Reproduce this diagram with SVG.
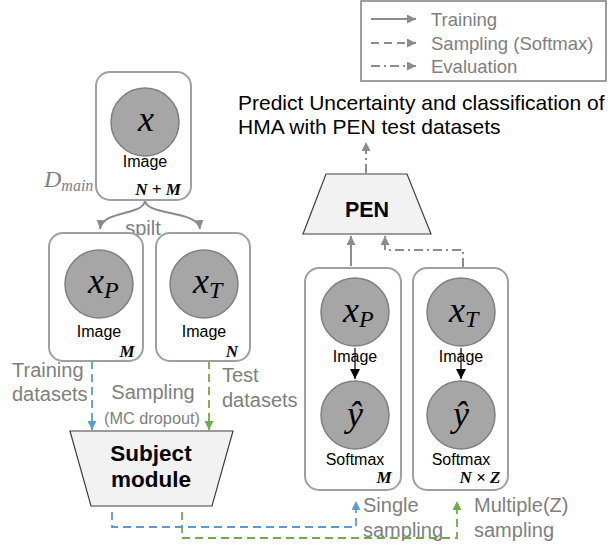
<svg xmlns="http://www.w3.org/2000/svg" width="610" height="548" viewBox="0 0 610 548">
<style>
.box{fill:#fff;stroke:#a0a0a0;stroke-width:2}
.node{fill:#a6a6a6;stroke:#7f7f7f;stroke-width:1.5}
.trap{fill:#f2f2f2;stroke:#404040;stroke-width:1.2}
.lbl{font-family:"Liberation Sans",Arial,sans-serif;font-size:16px;fill:#000}
.gl{font-family:"Liberation Sans",Arial,sans-serif;font-size:20px;fill:#808080}
.leg{font-family:"Liberation Sans",Arial,sans-serif;font-size:18.5px;fill:#808080}
.math{font-family:"Liberation Serif","DejaVu Serif",serif;font-style:italic;fill:#000}
.cnt{font-family:"Liberation Serif","DejaVu Serif",serif;font-style:italic;font-weight:bold;font-size:17px;fill:#000}
.bold{font-family:"Liberation Sans",Arial,sans-serif;font-weight:bold;fill:#000}
.g{fill:none;stroke:#8c8c8c;stroke-width:2}
.b{fill:none;stroke:#5b9bd5;stroke-width:1.8;stroke-dasharray:8 5}
.gr{fill:none;stroke:#70ad47;stroke-width:1.8;stroke-dasharray:8 5}
.dd{stroke-dasharray:9 4 2 4}
.ds{stroke-dasharray:8 5}
</style>
<defs>
<marker id="ag" viewBox="0 0 10 10" refX="10" refY="5" markerWidth="9" markerHeight="9" markerUnits="userSpaceOnUse" orient="auto"><path d="M0,0 L10,5 L0,10 z" fill="#8c8c8c"/></marker>
<marker id="ab" viewBox="0 0 10 10" refX="10" refY="5" markerWidth="9" markerHeight="9" markerUnits="userSpaceOnUse" orient="auto"><path d="M0,0 L10,5 L0,10 z" fill="#5b9bd5"/></marker>
<marker id="agr" viewBox="0 0 10 10" refX="10" refY="5" markerWidth="9" markerHeight="9" markerUnits="userSpaceOnUse" orient="auto"><path d="M0,0 L10,5 L0,10 z" fill="#70ad47"/></marker>
<marker id="ak" viewBox="0 0 10 10" refX="10" refY="5" markerWidth="10" markerHeight="10" markerUnits="userSpaceOnUse" orient="auto"><path d="M0,0 L10,5 L0,10 z" fill="#000"/></marker>
</defs>

<g id="legend">
<rect x="361" y="1" width="245" height="80" fill="#fff" stroke="#7f7f7f" stroke-width="1.5"/>
<line x1="371" y1="19" x2="416" y2="19" class="g" stroke-width="1.5" marker-end="url(#ag)"/>
<line x1="371" y1="43" x2="416" y2="43" class="g ds" stroke-width="1.5" marker-end="url(#ag)"/>
<line x1="371" y1="66" x2="416" y2="66" class="g dd" stroke-width="1.5" marker-end="url(#ag)"/>
<text class="leg" x="431" y="25.5">Training</text>
<text class="leg" x="431" y="49.5">Sampling (Softmax)</text>
<text class="leg" x="431" y="72.5">Evaluation</text>
</g>

<g id="result">
<text x="238" y="110" font-family="Liberation Sans,Arial,sans-serif" font-size="21" fill="#000">Predict Uncertainty and classification of</text>
<text x="238" y="134" font-family="Liberation Sans,Arial,sans-serif" font-size="21" fill="#000">HMA with PEN test datasets</text>
</g>

<g id="connectors">
<path d="M145,200 C145,216 102,210 100,229" class="g" marker-end="url(#ag)"/>
<path d="M145,200 C145,216 198,210 200,229" class="g" marker-end="url(#ag)"/>
<text class="gl" x="143" y="235" text-anchor="middle">spilt</text>
<line x1="92" y1="361" x2="92" y2="430" class="b" marker-end="url(#ab)"/>
<line x1="209" y1="361" x2="209" y2="430" class="gr" marker-end="url(#agr)"/>
<path d="M112,512 V527 H356 V501" class="b" marker-end="url(#ab)"/>
<path d="M182,512 V538 H457 V501" class="gr" marker-end="url(#agr)"/>
<line x1="351" y1="266" x2="351" y2="236" class="g" marker-end="url(#ag)"/>
<path d="M463,267 V250 H385 V236" class="g dd" marker-end="url(#ag)"/>
<line x1="366" y1="173" x2="366" y2="142" class="g dd" marker-end="url(#ag)"/>
</g>

<g id="labels">
<text class="gl" x="12" y="377">Training</text>
<text class="gl" x="12" y="401">datasets</text>
<text class="gl" x="153" y="399" text-anchor="middle">Sampling</text>
<text x="152" y="424" text-anchor="middle" font-family="Liberation Sans,Arial,sans-serif" font-size="16.3" fill="#808080">(MC dropout)</text>
<text class="gl" x="222" y="382">Test</text>
<text class="gl" x="222" y="407">datasets</text>
<text class="gl" x="363" y="512">Single</text>
<text class="gl" x="363" y="537">sampling</text>
<text class="gl" x="474" y="512">Multiple(Z)</text>
<text class="gl" x="474" y="537">sampling</text>
<text class="math" x="44" y="187" font-size="24" style="fill:#808080">D<tspan font-size="16" dy="4">main</tspan></text>
</g>

<g id="node-x">
<rect class="box" x="96" y="72" width="95" height="128" rx="14"/>
<circle class="node" cx="145" cy="122" r="34"/>
<text class="math" x="146" y="131" font-size="36" text-anchor="middle">x</text>
<text class="lbl" x="145" y="167" text-anchor="middle">Image</text>
<text class="cnt" x="158" y="195" text-anchor="middle">N + M</text>
</g>

<g id="node-xP">
<rect class="box" x="49" y="233" width="94" height="128" rx="14"/>
<circle class="node" cx="99" cy="284" r="34"/>
<text class="math" x="88" y="293" font-size="36">x<tspan font-size="24" dy="5">P</tspan></text>
<text class="lbl" x="99" y="337" text-anchor="middle">Image</text>
<text class="cnt" x="127" y="357" text-anchor="middle">M</text>
</g>

<g id="node-xT">
<rect class="box" x="156" y="233" width="94" height="128" rx="14"/>
<circle class="node" cx="204" cy="284" r="34"/>
<text class="math" x="193" y="293" font-size="36">x<tspan font-size="24" dy="5">T</tspan></text>
<text class="lbl" x="204" y="337" text-anchor="middle">Image</text>
<text class="cnt" x="232" y="357" text-anchor="middle">N</text>
</g>

<g id="subject-module">
<polygon class="trap" points="70,431 233,431 212,506 91,506"/>
<text class="bold" x="151" y="461" font-size="22.5" text-anchor="middle">Subject</text>
<text class="bold" x="151" y="487" font-size="22.5" text-anchor="middle">module</text>
</g>

<g id="pen">
<polygon class="trap" points="326,174 407,174 431,234 303,234"/>
<text class="bold" x="367" y="217" font-size="21.5" text-anchor="middle">PEN</text>
</g>

<g id="node-single">
<rect class="box" x="305" y="268" width="96" height="222" rx="14"/>
<circle class="node" cx="355" cy="312" r="34"/>
<text class="math" x="343" y="322" font-size="36">x<tspan font-size="24" dy="5">P</tspan></text>
<text class="lbl" x="355" y="362" text-anchor="middle">Image</text>
<line x1="355" y1="348" x2="355" y2="379" stroke="#000" stroke-width="1.2" marker-end="url(#ak)"/>
<circle class="node" cx="355" cy="415" r="34"/>
<text class="math" x="355" y="426" font-size="36" text-anchor="middle">ŷ</text>
<text class="lbl" x="355" y="465" text-anchor="middle">Softmax</text>
<text class="cnt" x="384" y="483" text-anchor="middle">M</text>
</g>

<g id="node-multiple">
<rect class="box" x="413" y="268" width="95" height="222" rx="14"/>
<circle class="node" cx="461" cy="312" r="34"/>
<text class="math" x="449" y="322" font-size="36">x<tspan font-size="24" dy="5">T</tspan></text>
<text class="lbl" x="461" y="362" text-anchor="middle">Image</text>
<line x1="461" y1="348" x2="461" y2="379" stroke="#000" stroke-width="1.2" marker-end="url(#ak)"/>
<circle class="node" cx="461" cy="415" r="34"/>
<text class="math" x="461" y="426" font-size="36" text-anchor="middle">ŷ</text>
<text class="lbl" x="461" y="465" text-anchor="middle">Softmax</text>
<text class="cnt" x="480" y="483" text-anchor="middle">N × Z</text>
</g>
</svg>
